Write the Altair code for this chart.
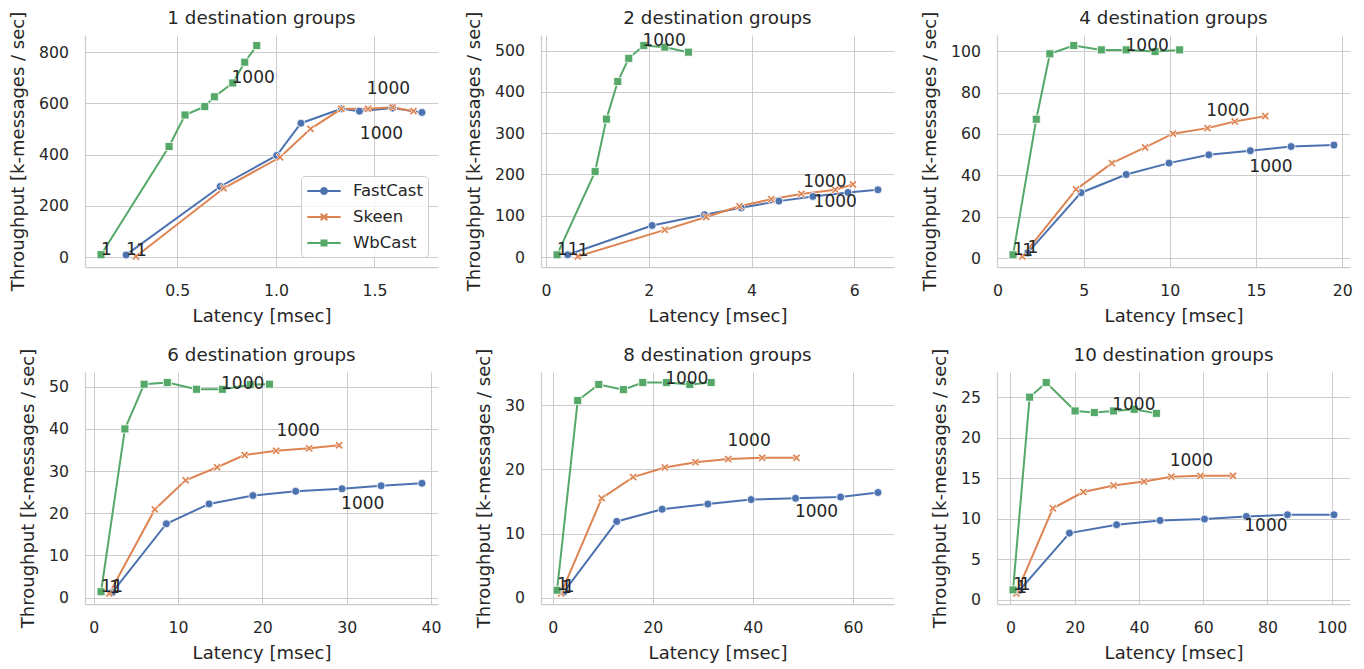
import altair as alt
import pandas as pd

SERIES = ["FastCast", "Skeen", "WbCast"]
COLORS = ["#4c72b0", "#dd8452", "#55a868"]
TEXT = "#262626"
GRID = "#cccccc"
FONT = "DejaVu Sans"

panel_titles = ["1 destination groups", "2 destination groups", "4 destination groups",
                "6 destination groups", "8 destination groups", "10 destination groups"]

# ---- panel 1 ----
p1_fastcast_x = [0.240, 0.718, 1.004, 1.127, 1.332, 1.424, 1.592, 1.741]
p1_fastcast_y = [9, 276, 397, 523, 579, 570, 582, 565]
p1_skeen_x = [0.290, 0.735, 1.021, 1.176, 1.332, 1.468, 1.592, 1.698]
p1_skeen_y = [3, 269, 390, 501, 579, 579, 585, 570]
p1_wbcast_x = [0.113, 0.458, 0.539, 0.639, 0.688, 0.781, 0.842, 0.903]
p1_wbcast_y = [10, 432, 555, 588, 626, 680, 761, 826]
# ---- panel 2 ----
p2_fastcast_x = [0.422, 2.065, 3.084, 3.799, 4.532, 5.195, 5.877, 6.461]
p2_fastcast_y = [5.6, 76.6, 102.4, 119.4, 135.5, 146.8, 156.5, 162.9]
p2_skeen_x = [0.617, 2.312, 3.117, 3.766, 4.383, 4.968, 5.630, 5.974]
p2_skeen_y = [1.6, 66, 97, 123, 140, 153, 163, 176]
p2_wbcast_x = [0.214, 0.955, 1.175, 1.396, 1.610, 1.903, 2.312, 2.773]
p2_wbcast_y = [5.6, 207, 334, 425, 481, 512, 508, 496]
# ---- panel 3 ----
p3_fastcast_x = [1.75, 4.851, 7.469, 9.952, 12.262, 14.668, 17.035, 19.519]
p3_fastcast_y = [2.5, 31.6, 40.4, 45.9, 49.9, 51.9, 53.9, 54.6]
p3_skeen_x = [1.444, 4.562, 6.641, 8.566, 10.183, 12.185, 13.763, 15.534]
p3_skeen_y = [0.8, 33.2, 45.9, 53.5, 60.1, 62.8, 66.0, 68.6]
p3_wbcast_x = [0.905, 2.252, 3.041, 4.427, 6.025, 7.469, 9.143, 10.568]
p3_wbcast_y = [1.6, 67.1, 98.7, 102.7, 100.6, 100.6, 99.8, 100.6]
# ---- panel 4 ----
p4_fastcast_x = [2.2, 8.61, 13.68, 18.88, 23.95, 29.45, 34.09, 38.93]
p4_fastcast_y = [1.2, 17.5, 22.2, 24.2, 25.2, 25.8, 26.5, 27.1]
p4_skeen_x = [1.85, 7.24, 10.89, 14.63, 17.89, 21.63, 25.56, 29.10]
p4_skeen_y = [0.96, 20.9, 27.8, 30.9, 33.8, 34.8, 35.4, 36.1]
p4_wbcast_x = [0.865, 3.696, 5.977, 8.730, 12.19, 15.26, 18.56, 20.84]
p4_wbcast_y = [1.36, 40.0, 50.6, 51.0, 49.4, 49.4, 50.5, 50.6]
# ---- panel 5 ----
p5_fastcast_x = [2.2, 12.8, 21.87, 31.0, 39.67, 48.53, 57.53, 65.0]
p5_fastcast_y = [0.9, 11.9, 13.8, 14.6, 15.3, 15.5, 15.7, 16.4]
p5_skeen_x = [1.67, 9.8, 16.07, 22.4, 28.53, 35.07, 41.87, 48.73]
p5_skeen_y = [0.7, 15.5, 18.8, 20.3, 21.1, 21.6, 21.8, 21.8]
p5_wbcast_x = [0.87, 5.0, 9.2, 14.13, 18.0, 22.73, 27.4, 31.67]
p5_wbcast_y = [1.2, 30.7, 33.2, 32.4, 33.5, 33.5, 33.2, 33.5]
# ---- panel 6 ----
p6_fastcast_x = [2.9, 18.39, 33.06, 46.59, 60.43, 73.45, 86.26, 100.72]
p6_fastcast_y = [1.2, 8.24, 9.27, 9.80, 9.97, 10.3, 10.5, 10.5]
p6_skeen_x = [1.86, 13.22, 22.73, 32.13, 41.63, 50.1, 59.19, 69.32]
p6_skeen_y = [0.8, 11.3, 13.3, 14.1, 14.6, 15.2, 15.3, 15.3]
p6_wbcast_x = [0.83, 5.99, 11.16, 20.14, 26.14, 32.13, 38.53, 45.45]
p6_wbcast_y = [1.24, 25.0, 26.8, 23.3, 23.1, 23.3, 23.5, 23.0]

# "1000" annotation anchors (FastCast, Skeen, WbCast), data coordinates
label1000_x = [[1.426, 1.461, 0.775], [5.208, 5.006, 1.877], [14.61, 12.11, 7.43],
               [29.34, 21.67, 15.1], [48.4, 34.93, 22.47], [72.8, 49.6, 31.7]]
label1000_y = [[462, 638, 680], [121, 169, 512], [41.5, 68.6, 100.3],
               [20.9, 38.3, 49.4], [12.66, 23.6, 33.2], [8.44, 16.56, 23.4]]

x_ticks = [[0.5, 1.0, 1.5], [0, 2, 4, 6], [0, 5, 10, 15, 20],
           [0, 10, 20, 30, 40], [0, 20, 40, 60], [0, 20, 40, 60, 80, 100]]
y_ticks = [[0, 200, 400, 600, 800], [0, 100, 200, 300, 400, 500], [0, 20, 40, 60, 80, 100],
           [0, 10, 20, 30, 40, 50], [0, 10, 20, 30], [0, 5, 10, 15, 20, 25]]
x_formats = [".1f", "d", "d", "d", "d", "d"]

panel_x = [
    [p1_fastcast_x, p1_skeen_x, p1_wbcast_x],
    [p2_fastcast_x, p2_skeen_x, p2_wbcast_x],
    [p3_fastcast_x, p3_skeen_x, p3_wbcast_x],
    [p4_fastcast_x, p4_skeen_x, p4_wbcast_x],
    [p5_fastcast_x, p5_skeen_x, p5_wbcast_x],
    [p6_fastcast_x, p6_skeen_x, p6_wbcast_x],
]
panel_y = [
    [p1_fastcast_y, p1_skeen_y, p1_wbcast_y],
    [p2_fastcast_y, p2_skeen_y, p2_wbcast_y],
    [p3_fastcast_y, p3_skeen_y, p3_wbcast_y],
    [p4_fastcast_y, p4_skeen_y, p4_wbcast_y],
    [p5_fastcast_y, p5_skeen_y, p5_wbcast_y],
    [p6_fastcast_y, p6_skeen_y, p6_wbcast_y],
]

# marker shapes (symbol paths in [-1, 1])
X_PATH = "M-1,-0.6L-0.6,-1L0,-0.4L0.6,-1L1,-0.6L0.4,0L1,0.6L0.6,1L0,0.4L-0.6,1L-1,0.6L-0.4,0Z"
# legend glyphs: a short line segment with the marker on it
BAR = "M-1.67,-0.1L1.67,-0.1L1.67,0.1L-1.67,0.1Z"
LEG_FC = BAR + "M0.4,0A0.4,0.4,0,1,1,-0.4,0A0.4,0.4,0,1,1,0.4,0Z"
LEG_SK = (BAR + "M-0.4,-0.24L-0.24,-0.4L0,-0.16L0.24,-0.4L0.4,-0.24L0.16,0"
          "L0.4,0.24L0.24,0.4L0,0.16L-0.24,0.4L-0.4,0.24L-0.16,0Z")
LEG_WB = BAR + "M-0.35,-0.35L0.35,-0.35L0.35,0.35L-0.35,0.35Z"


def padded(vals):
    lo, hi = min(vals), max(vals)
    m = (hi - lo) * 0.05
    return [lo - m, hi + m]


def build_panel(k, with_legend):
    rows = []
    for s, name in enumerate(SERIES):
        for i, (xv, yv) in enumerate(zip(panel_x[k][s], panel_y[k][s])):
            rows.append({"series": name, "latency": xv, "throughput": yv, "idx": i})
    df = pd.DataFrame(rows)
    ann = []
    for s, name in enumerate(SERIES):
        ann.append({"label": "1", "latency": panel_x[k][s][0], "throughput": panel_y[k][s][0]})
        ann.append({"label": "1000", "latency": label1000_x[k][s], "throughput": label1000_y[k][s]})
    adf = pd.DataFrame(ann)

    x_dom = padded(df["latency"].tolist())
    y_dom = padded(df["throughput"].tolist())
    x = alt.X("latency:Q", scale=alt.Scale(domain=x_dom, nice=False, zero=False),
              axis=alt.Axis(values=x_ticks[k], format=x_formats[k], title="Latency [msec]"))
    y = alt.Y("throughput:Q", scale=alt.Scale(domain=y_dom, nice=False, zero=False),
              axis=alt.Axis(values=y_ticks[k], format="d", title="Throughput [k-messages / sec]"))
    cscale = alt.Scale(domain=SERIES, range=COLORS)
    color = alt.Color("series:N", scale=cscale, legend=None)
    shape = alt.Shape("series:N", scale=alt.Scale(domain=SERIES, range=["circle", X_PATH, "square"]),
                      legend=None)
    base = alt.Chart(df)
    lines = base.mark_line(strokeWidth=2).encode(x=x, y=y, color=color, order=alt.Order("idx:Q"))
    pts = base.mark_point(filled=True, size=64, stroke="white", strokeWidth=0.8, opacity=1).encode(
        x=x, y=y, color=color, shape=shape)
    texts = alt.Chart(adf).mark_text(align="left", baseline="alphabetic", fontSize=17, font=FONT,
                                     color=TEXT).encode(x=x, y=y, text="label:N")
    layers = [lines, pts, texts]
    if with_legend:
        legend = alt.Legend(
            title=None, orient="bottom-right", offset=10, symbolSize=400, symbolOffset=8,
            labelOffset=19, padding=5, rowPadding=7, labelFontSize=16.5, labelFont=FONT,
            labelColor=TEXT, fillColor="rgba(255,255,255,0.8)", strokeColor=GRID,
            cornerRadius=4, symbolOpacity=1, symbolStrokeWidth=0)
        first = df[df["idx"] == 0]
        leg_layer = alt.Chart(first).mark_point(filled=True, opacity=0, size=1).encode(
            x=x, y=y,
            color=alt.Color("series:N", scale=alt.Scale(domain=SERIES, range=COLORS), legend=legend),
            shape=alt.Shape("series:N", scale=alt.Scale(domain=SERIES, range=[LEG_FC, LEG_SK, LEG_WB]),
                            legend=legend))
        layers.append(leg_layer)
    ch = alt.layer(*layers)
    if with_legend:
        ch = ch.resolve_scale(color="independent", shape="independent").resolve_legend(
            color="independent", shape="independent")
    return ch.properties(width=353, height=232, title=alt.TitleParams(panel_titles[k]))


panels = [build_panel(k, k == 0) for k in range(6)]

chart = alt.concat(*panels, columns=3, spacing={"row": 105, "column": 103}, bounds="flush").resolve_scale(
    color="independent", shape="independent").resolve_legend(color="independent", shape="independent").properties(
    padding={"top": 1, "left": 1, "right": 0, "bottom": 0}, background="white"
).configure_view(stroke=None).configure_axis(
    labelFont=FONT, labelFontSize=15.7, labelColor=TEXT, titleFont=FONT, titleFontSize=18,
    titleFontWeight="normal", titleColor=TEXT, domainColor=GRID, domainWidth=1.25,
    gridColor=GRID, gridWidth=1, ticks=False, tickSize=0, labelPadding=16.5, labelFlush=False
).configure_axisX(titlePadding=9).configure_axisY(titlePadding=11).configure_title(
    font=FONT, fontSize=18.3, fontWeight="normal", color=TEXT, offset=-17, baseline="alphabetic",
    frame="group", anchor="middle"
)

chart.save("out.html", embed_options={"renderer": "svg", "actions": False})
